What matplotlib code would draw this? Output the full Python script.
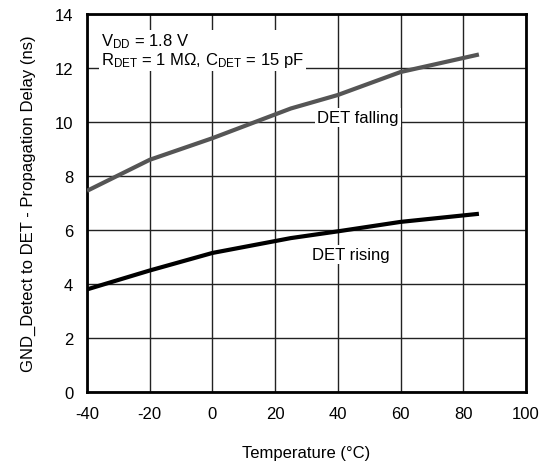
import matplotlib
matplotlib.use("Agg")
import matplotlib.pyplot as plt

plt.rcParams['font.family'] = ['Liberation Sans', 'DejaVu Sans']
plt.rcParams['mathtext.fontset'] = 'custom'
plt.rcParams['mathtext.rm'] = 'Liberation Sans'
plt.rcParams['mathtext.it'] = 'Liberation Sans'
plt.rcParams['axes.unicode_minus'] = False

temps = [-40, -20, 0, 25, 40, 60, 85]
det_falling = [7.45, 8.6, 9.4, 10.5, 11.0, 11.85, 12.5]
det_rising = [3.8, 4.5, 5.15, 5.7, 5.95, 6.3, 6.6]
xticks = [-40, -20, 0, 20, 40, 60, 80, 100]
yticks = [0, 2, 4, 6, 8, 10, 12, 14]

fig = plt.figure(figsize=(5.49, 4.64), dpi=100)
ax = fig.add_axes([0.1585, 0.153, 0.7995, 0.8147])

ax.plot(temps, det_falling, color='#555555', lw=3, solid_capstyle='butt', zorder=3)
ax.plot(temps, det_rising, color='#000000', lw=3, solid_capstyle='butt', zorder=3)

ax.set_xlim(-40, 100)
ax.set_ylim(0, 14)
ax.set_xticks(xticks)
ax.set_yticks(yticks)
ax.grid(True, color='#222222', lw=1)
ax.set_axisbelow(True)
ax.tick_params(length=0, labelsize=12, pad=10)
for s in ax.spines.values():
    s.set_linewidth(2)
    s.set_color('black')

ax.set_xlabel('Temperature (°C)', fontsize=12, labelpad=17)
ax.set_ylabel('GND_Detect to DET - Propagation Delay (ns)', fontsize=12, labelpad=13)

box = dict(facecolor='white', edgecolor='none', pad=1.5)
ax.text(-35.5, 13.35, r'V$_{\mathrm{DD}}$ = 1.8 V' + '\n' + r'R$_{\mathrm{DET}}$ = 1 M$\Omega$, C$_{\mathrm{DET}}$ = 15 pF',
        fontsize=12, va='top', ha='left', bbox=box, zorder=4, linespacing=1.0)
ax.text(46.5, 10.15, 'DET falling', fontsize=12, ha='center', va='center', bbox=box, zorder=4)
ax.text(44, 5.1, 'DET rising', fontsize=12, ha='center', va='center', bbox=box, zorder=4)

fig.savefig('out.png', dpi=100)
